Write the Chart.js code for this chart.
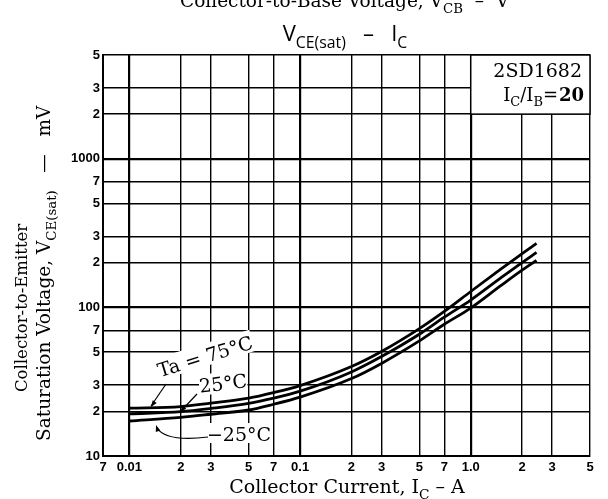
<!DOCTYPE html>
<html>
<head>
<meta charset="utf-8">
<script src="https://cdn.jsdelivr.net/npm/chart.js@4/dist/chart.umd.min.js"></script>
<style>
  html, body { margin: 0; padding: 0; background: #fff; }
  canvas { display: block; }
</style>
</head>
<body>
<canvas id="vceChart" width="608" height="499"></canvas>
<script>
// collector current (A)
const currentA = [0.01, 0.02, 0.03, 0.05, 0.07, 0.1, 0.2, 0.3, 0.5, 0.7, 1.0, 1.5, 2.0, 2.43];
// VCE(sat) in mV for each ambient temperature
const vce75 = [21.0, 21.5, 22.7, 24.5, 26.7, 29.8, 40.0, 50.5, 72, 94, 128, 181, 230, 270];
const vce25 = [19.2, 19.9, 20.9, 22.6, 24.5, 27.3, 36.8, 46.7, 66, 86, 112, 158, 200, 235];
const vceM25 = [17.2, 18.2, 19.1, 20.4, 22.3, 24.9, 33.2, 42.0, 59.5, 77, 99, 140, 178, 207];

const xTicks = [0.007, 0.01, 0.02, 0.03, 0.05, 0.07, 0.1, 0.2, 0.3, 0.5, 0.7, 1, 2, 3, 5];
const xTickLabels = ["7", "0.01", "2", "3", "5", "7", "0.1", "2", "3", "5", "7", "1.0", "2", "3", "5"];
const yTicks = [10, 20, 30, 50, 70, 100, 200, 300, 500, 700, 1000, 2000, 3000, 5000];
const yTickLabels = ["10", "2", "3", "5", "7", "100", "2", "3", "5", "7", "1000", "2", "3", "5"];
const decades = [0.01, 0.1, 1, 100, 1000];

const SERIF = "'DejaVu Serif', serif";
const SANS = "'Open Sans', sans-serif";

function pts(ys) {
  return currentA.map((x, i) => ({ x: x, y: ys[i] }));
}

// text with subscripts: parts = [[text, isSub], ...]
function richWidth(ctx, parts, size, fam) {
  let w = 0;
  parts.forEach(p => {
    ctx.font = (p[1] ? size * 0.72 : size) + "px " + fam;
    w += ctx.measureText(p[0]).width;
  });
  return w;
}
function drawRich(ctx, parts, x, y, size, fam, align) {
  const w = richWidth(ctx, parts, size, fam);
  let cx = align === "center" ? x - w / 2 : (align === "right" ? x - w : x);
  ctx.textAlign = "left";
  ctx.textBaseline = "alphabetic";
  parts.forEach(p => {
    ctx.font = (p[1] ? size * 0.72 : size) + "px " + fam;
    ctx.fillText(p[0], cx, p[1] ? y + size * 0.3 : y);
    cx += ctx.measureText(p[0]).width;
  });
}

const textPlugin = {
  id: "texts",
  beforeDatasetsDraw(chart) {
    const ctx = chart.ctx;
    const xs = chart.scales.x, ys = chart.scales.y;
    ctx.save();
    // white boxes behind curve labels
    ctx.fillStyle = "#fff";
    ctx.save();
    ctx.translate(205, 356); ctx.rotate(-0.3);
    ctx.fillRect(-50, -12, 100, 22);
    ctx.restore();
    ctx.save();
    ctx.translate(223, 383); ctx.rotate(-0.12);
    ctx.fillRect(-24, -11, 48, 21);
    ctx.restore();
    ctx.fillRect(210, 423, 58, 20);
    // part number box
    const bx = xs.getPixelForValue(1), by = ys.getPixelForValue(2000);
    ctx.fillRect(bx, chart.chartArea.top, chart.chartArea.right - bx, by - chart.chartArea.top);
    ctx.strokeStyle = "#000"; ctx.lineWidth = 1.5;
    ctx.strokeRect(bx, chart.chartArea.top, chart.chartArea.right - bx, by - chart.chartArea.top);
    ctx.restore();
  },
  afterDraw(chart) {
    const ctx = chart.ctx;
    ctx.save();
    ctx.fillStyle = "#000";

    // cut-off heading of the page
    drawRich(ctx, [["Collector-to-Base Voltage, V", 0], ["CB", 1], ["  \u2013  V", 0]], 180, 7, 18.5, SERIF, "left");

    // chart title
    drawRich(ctx, [["V", 0], ["CE(sat)", 1], ["   \u2013   ", 0], ["I", 0], ["C", 1]], 345, 41, 22, SANS, "center");

    // part number and condition
    drawRich(ctx, [["2SD1682", 0]], 582, 77, 19, SERIF, "right");
    drawRich(ctx, [["I", 0], ["C", 1], ["/I", 0], ["B", 1], ["=", 0]], 558, 101, 18, SERIF, "right");
    ctx.font = "bold 18px " + SERIF;
    ctx.textAlign = "right";
    ctx.fillText("20", 584, 101);

    // x axis title
    drawRich(ctx, [["Collector Current, I", 0], ["C", 1], [" \u2013 A", 0]], 347, 493, 19, SERIF, "center");

    // y axis title (two lines)
    ctx.save();
    ctx.translate(27, 392); ctx.rotate(-Math.PI / 2);
    drawRich(ctx, [["Collector-to-Emitter", 0]], 0, 0, 16.5, SERIF, "left");
    ctx.restore();
    ctx.save();
    ctx.translate(50, 441); ctx.rotate(-Math.PI / 2);
    drawRich(ctx, [["Saturation Voltage, V", 0], ["CE(sat)", 1], ["   \u2014   mV", 0]], 0, 0, 18.5, SERIF, "left");
    ctx.restore();

    // curve labels
    ctx.save();
    ctx.translate(205, 356); ctx.rotate(-0.3);
    drawRich(ctx, [["Ta = 75\u00b0C", 0]], 0, 7, 19, SERIF, "center");
    ctx.restore();
    ctx.save();
    ctx.translate(223, 383); ctx.rotate(-0.12);
    drawRich(ctx, [["25\u00b0C", 0]], 0, 7, 19, SERIF, "center");
    ctx.restore();
    drawRich(ctx, [["\u221225\u00b0C", 0]], 239, 441, 19, SERIF, "center");

    // arrows
    ctx.strokeStyle = "#000"; ctx.lineWidth = 1.2;
    function head(x, y, ang) {
      ctx.beginPath();
      ctx.moveTo(x, y);
      ctx.lineTo(x - 7 * Math.cos(ang - 0.35), y - 7 * Math.sin(ang - 0.35));
      ctx.lineTo(x - 7 * Math.cos(ang + 0.35), y - 7 * Math.sin(ang + 0.35));
      ctx.closePath(); ctx.fill();
    }
    ctx.beginPath(); ctx.moveTo(166, 384); ctx.lineTo(151, 406); ctx.stroke();
    head(151, 407, Math.atan2(22, -15));
    ctx.beginPath(); ctx.moveTo(197, 394); ctx.lineTo(181, 411); ctx.stroke();
    head(180, 412, Math.atan2(17, -16));
    ctx.beginPath(); ctx.moveTo(208, 437); ctx.quadraticCurveTo(166, 442, 157, 428); ctx.stroke();
    head(156, 425, Math.atan2(-12, -4));
    ctx.restore();
  }
};

new Chart(document.getElementById("vceChart").getContext("2d"), {
  type: "line",
  data: {
    datasets: [
      { label: "Ta=75\u00b0C", data: pts(vce75) },
      { label: "25\u00b0C", data: pts(vce25) },
      { label: "-25\u00b0C", data: pts(vceM25) }
    ]
  },
  options: {
    responsive: false,
    animation: false,
    devicePixelRatio: 1,
    layout: { padding: { top: 55, right: 18, left: 0, bottom: 0 } },
    elements: {
      line: { borderColor: "#000", borderWidth: 2.8, tension: 0.4, cubicInterpolationMode: "monotone", fill: false },
      point: { radius: 0 }
    },
    plugins: { legend: { display: false }, tooltip: { enabled: false }, title: { display: false } },
    scales: {
      x: {
        type: "logarithmic",
        min: 0.007,
        max: 5,
        afterBuildTicks: s => { s.ticks = xTicks.map(v => ({ value: v })); },
        afterFit: s => { s.height = 43; },
        ticks: {
          autoSkip: false,
          maxRotation: 0,
          padding: 4,
          color: "#000",
          font: { family: "'Liberation Sans', sans-serif", size: 13, weight: "bold" },
          callback: (v, i) => xTickLabels[i]
        },
        grid: {
          color: "#000",
          drawTicks: false,
          lineWidth: c => (c.tick && decades.includes(c.tick.value) ? 2.2 : 1.4)
        },
        border: { display: true, color: "#000", width: 2 }
      },
      y: {
        type: "logarithmic",
        min: 10,
        max: 5000,
        afterBuildTicks: s => { s.ticks = yTicks.map(v => ({ value: v })); },
        afterFit: s => { s.width = 103; },
        ticks: {
          autoSkip: false,
          padding: 3,
          color: "#000",
          font: { family: "'Liberation Sans', sans-serif", size: 13, weight: "bold" },
          callback: (v, i) => yTickLabels[i]
        },
        grid: {
          color: "#000",
          drawTicks: false,
          lineWidth: c => (c.tick && decades.includes(c.tick.value) ? 2.2 : 1.4)
        },
        border: { display: true, color: "#000", width: 2 }
      }
    }
  },
  plugins: [textPlugin]
});
</script>
</body>
</html>
